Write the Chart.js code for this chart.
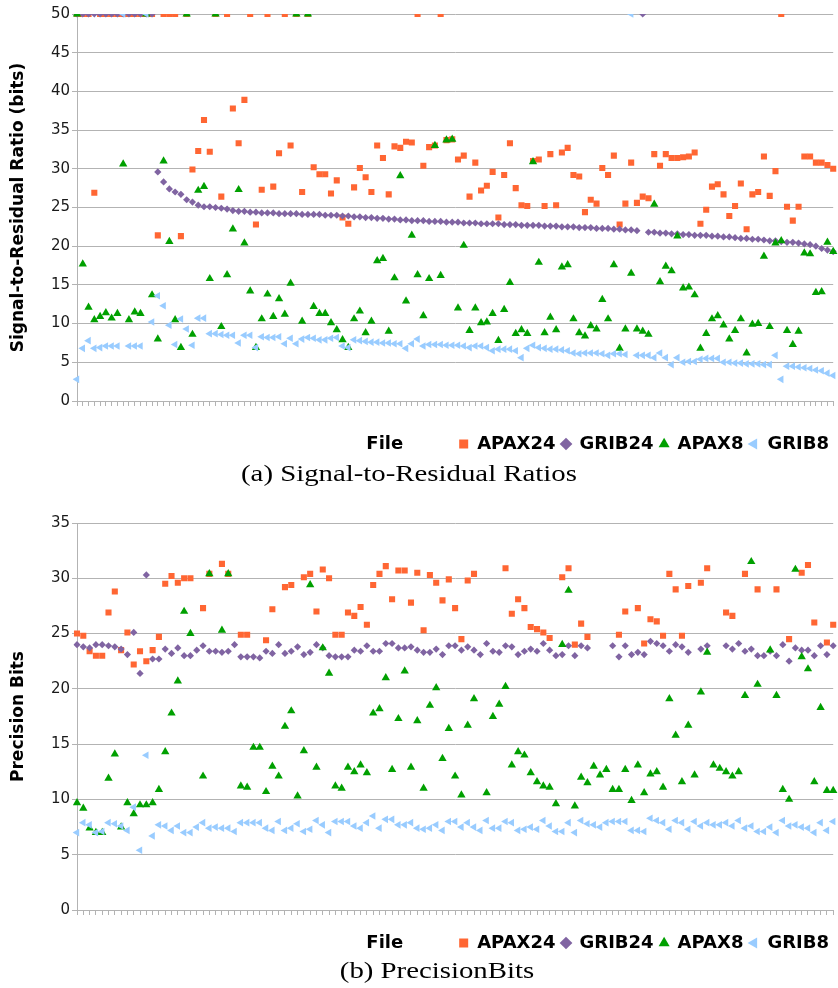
<!DOCTYPE html>
<html><head><meta charset="utf-8">
<script src="https://cdn.jsdelivr.net/npm/chart.js@4.4.1/dist/chart.umd.min.js"></script>
<style>
html,body{margin:0;padding:0;background:#fff;}
body{width:838px;height:988px;position:relative;overflow:hidden;}
.wrap{position:absolute;left:0;width:838px;}
#w1{top:0;height:465px;}
#w2{top:505px;height:459px;}
.cap{position:absolute;width:838px;text-align:center;font-family:"Liberation Serif",serif;font-size:24px;line-height:28px;color:#000;}
.cap span{display:inline-block;transform:scaleX(1.2);}
</style></head>
<body>
<div class="wrap" id="w1"><canvas id="c1"></canvas></div>
<div class="cap" style="top:459px;left:-10px;"><span>(a) Signal-to-Residual Ratios</span></div>
<div class="wrap" id="w2"><canvas id="c2"></canvas></div>
<div class="cap" style="top:956px;left:18px;"><span>(b) PrecisionBits</span></div>
<script>
// ---------- (a) Signal-to-Residual Ratios (bits) ----------
const sigApax24 = [50,50,50,26.9,50,50,50,50,50,50,50,50,50,50,
21.4,50,50,50,21.3,50,29.9,32.3,36.3,32.2,50,26.4,50,37.8,33.3,38.9,50,22.8,27.3,50,27.7,32.0,50,33.0,50,27.0,
50,30.2,29.3,29.3,26.8,28.5,23.7,22.9,27.6,30.1,28.9,27.0,33.0,31.4,26.7,32.9,32.7,33.5,33.4,50,
30.4,32.8,33.0,50,33.7,33.8,31.2,31.7,26.4,30.8,27.2,27.8,29.6,23.7,29.2,33.3,27.5,25.3,25.2,31.0,
31.2,25.2,31.9,25.3,32.1,32.7,29.2,29.0,24.4,26.0,25.5,30.1,29.2,31.7,22.8,25.5,30.8,25.6,26.4,26.2,
31.9,30.4,31.9,31.4,31.4,31.5,31.6,32.1,22.9,24.7,27.7,28.0,26.7,23.9,25.2,28.1,22.2,26.7,27.0,31.6,
26.5,29.7,50,25.1,23.3,25.1,31.6,31.6,30.8,30.8,30.5,30.0];
const sigGrib24 = [50,50,50,50,50,50,50,50,50,50,50,50,50,50,
29.6,28.3,27.4,27.0,26.7,26.0,25.7,25.3,25.1,25.1,25.0,24.9,24.8,24.6,24.5,24.5,24.4,24.4,24.3,24.3,24.3,
24.2,24.2,24.2,24.2,24.1,24.1,24.1,24.1,24.0,24.0,24.0,23.9,23.9,23.8,23.8,23.7,23.7,23.6,23.6,23.5,
23.5,23.4,23.4,23.3,23.3,23.3,23.2,23.2,23.2,23.1,23.1,23.1,23.0,23.0,23.0,22.9,22.9,22.9,22.9,22.8,
22.8,22.8,22.7,22.7,22.7,22.7,22.6,22.6,22.6,22.5,22.5,22.5,22.4,22.4,22.4,22.3,22.3,22.3,22.2,22.2,
22.1,22.1,22.0,50,21.8,21.8,21.7,21.7,21.6,21.6,21.5,21.5,21.4,21.4,21.4,21.3,21.3,21.2,21.2,21.1,
21.0,21.0,20.9,20.9,20.8,20.7,20.7,20.6,20.5,20.5,20.4,20.3,20.2,20.0,19.7,19.5,19.3];
const sigApax8 = [50,17.7,12.1,10.5,10.9,11.4,10.7,11.3,30.6,10.5,11.5,11.3,50,13.7,8.0,31.0,20.6,10.5,6.9,50,
8.6,27.2,27.7,15.8,50,9.6,16.3,22.2,27.3,20.4,14.2,6.9,10.6,13.8,10.9,13.2,11.2,15.2,50,10.3,
50,12.2,11.3,11.3,10.1,9.2,7.9,6.9,10.6,11.6,8.8,10.3,18.1,18.4,9.0,15.9,29.1,12.9,21.4,16.3,
11.0,15.8,33.0,16.2,33.7,33.8,12.0,20.1,9.1,12.0,10.1,10.2,11.3,7.8,11.8,15.3,8.7,9.2,8.7,30.9,
17.9,8.8,10.8,9.2,17.3,17.6,10.6,8.8,8.4,9.7,9.3,13.1,10.6,17.6,6.8,9.3,16.5,9.3,9.0,8.6,
25.4,15.4,17.4,16.8,21.3,14.6,14.7,13.7,6.8,8.7,10.6,11.0,9.8,8.0,9.1,10.6,6.2,9.9,10.0,18.7,
9.6,20.4,20.7,9.1,7.3,9.0,19.1,19.0,14.0,14.1,20.5,19.3];
const sigGrib8 = [2.8,6.8,7.8,6.8,6.9,7.1,7.1,7.1,50,7.1,7.1,7.1,50,10.2,13.6,12.3,9.8,7.3,10.6,9.3,
7.2,10.7,10.7,8.7,8.7,8.6,8.5,8.5,7.5,8.5,8.5,6.9,8.3,8.2,8.2,8.3,7.4,8.1,7.4,8.0,
8.2,8.1,7.9,7.9,8.1,8.2,7.1,6.9,7.9,7.8,7.7,7.6,7.6,7.5,7.5,7.4,7.4,6.8,7.4,8.0,
7.1,7.3,7.3,7.3,7.2,7.2,7.2,7.1,6.9,7.1,7.1,6.9,6.5,6.7,6.7,6.7,6.5,5.6,6.8,7.2,
6.9,6.8,6.7,6.7,6.6,6.5,6.2,6.1,6.2,6.2,6.2,6.1,5.9,6.1,6.1,6.0,50,5.9,5.9,5.9,
5.6,6.2,5.6,4.7,5.6,5.0,5.1,5.1,5.4,5.5,5.5,5.5,5.0,5.0,4.9,4.9,4.8,4.8,4.8,4.7,
4.7,5.9,2.8,4.5,4.5,4.4,4.3,4.2,4.0,3.9,3.6,3.3];
const sigAxis = {min: 0, max: 50, step: 5, title: 'Signal-to-Residual Ratio (bits)'};

// ---------- (b) PrecisionBits ----------
const precApax24 = [25.0,24.8,23.4,23.0,23.0,26.9,28.8,23.5,25.1,22.2,23.4,22.5,23.5,24.7,29.5,30.2,29.6,30.0,30.0,null,
27.3,30.4,null,31.3,30.4,null,24.9,24.9,null,null,24.4,27.2,null,29.2,29.4,null,30.1,30.4,27.0,30.8,
30.0,24.9,24.9,26.9,26.6,27.4,25.8,29.4,30.4,31.1,28.1,30.7,30.7,27.8,30.5,25.3,30.3,29.6,28.0,29.9,
27.3,24.5,29.8,30.4,null,null,null,null,30.9,26.8,28.1,27.3,25.6,25.4,25.1,24.6,null,30.1,30.9,24.0,
25.9,24.7,null,null,null,null,24.9,27.0,null,27.3,24.1,26.3,26.1,24.8,30.4,29.0,24.8,29.3,null,29.6,
30.9,null,null,26.9,26.6,null,30.4,null,29.0,null,null,29.0,null,24.5,null,30.5,31.2,26.0,null,24.2,
25.8];
const precGrib24 = [24.0,23.8,23.7,24.0,24.0,23.9,23.8,23.6,23.1,25.1,21.4,30.3,22.7,22.7,23.6,23.2,23.7,23.0,23.0,23.5,
23.9,23.4,23.4,23.3,23.4,24.0,22.9,22.9,22.9,22.8,23.4,23.2,24.0,23.2,23.4,23.8,23.1,23.3,24.0,23.7,
23.0,22.9,22.9,22.9,23.5,23.4,23.9,23.4,23.4,24.1,24.1,23.7,23.7,23.8,23.5,23.3,23.3,23.6,23.1,23.9,
23.9,23.5,23.8,23.5,23.1,24.1,23.4,23.3,23.9,23.8,23.1,23.4,23.6,23.4,24.1,23.5,23.0,23.1,23.9,23.0,
23.9,23.7,null,null,null,23.9,22.9,23.9,23.1,23.3,23.1,24.3,24.1,23.9,23.4,24.0,23.8,23.3,null,23.6,
23.9,null,null,23.9,23.6,24.1,23.4,23.6,23.0,23.0,23.4,23.0,24.0,22.5,23.7,23.5,23.5,23.0,23.9,23.1,
23.9];
const precApax8 = [9.7,9.2,7.4,7.0,7.0,11.9,14.1,7.5,9.7,8.7,9.5,9.5,9.7,10.9,14.3,17.8,20.7,27.0,25.0,null,
12.1,30.4,null,25.3,30.4,null,11.2,11.1,14.7,14.7,10.7,13.0,12.1,16.6,18.0,10.3,14.4,29.4,12.9,23.7,
21.4,11.2,11.0,12.9,12.5,13.1,12.4,17.8,18.2,21.0,12.7,17.3,21.6,12.9,17.1,11.0,18.5,20.1,13.7,16.4,
12.1,10.4,16.7,19.1,null,10.6,17.5,18.6,20.2,13.1,14.3,14.0,12.4,11.6,11.2,11.1,9.6,24.0,28.9,9.4,
12.0,11.5,13.0,12.2,12.7,10.9,10.9,12.7,9.9,13.1,10.6,12.3,12.5,11.1,19.1,15.8,11.6,16.7,12.2,19.7,
23.3,13.1,12.8,12.5,12.1,12.5,19.4,31.5,20.4,null,23.5,19.4,10.9,10.0,30.8,22.9,21.8,11.6,18.3,10.8,
10.8];
const precGrib8 = [7.0,7.9,7.7,7.0,7.1,7.9,7.8,7.6,7.2,9.3,5.4,14.0,6.7,7.7,7.6,7.2,7.6,7.0,7.0,7.5,
7.9,7.4,7.5,7.4,7.4,7.1,7.9,7.9,7.9,7.9,7.4,7.2,8.0,7.2,7.4,7.8,7.1,7.3,8.1,7.7,
7.0,8.0,8.0,8.0,7.6,7.4,7.9,8.5,7.4,8.2,8.2,7.7,7.7,7.9,7.4,7.3,7.4,7.7,7.2,8.0,
8.0,7.5,7.9,7.5,7.2,8.1,7.4,7.4,8.0,7.9,7.2,7.3,7.5,7.3,8.1,7.6,7.1,7.1,7.9,7.0,
8.1,7.8,7.7,7.5,7.9,8.0,8.0,8.0,7.2,7.2,7.1,8.3,8.1,7.9,7.3,8.1,7.9,7.3,8.0,7.6,
7.9,7.7,7.7,7.9,7.6,8.1,7.4,7.6,7.1,7.1,7.5,7.0,8.1,7.6,7.7,7.5,7.4,7.0,7.9,7.2,
8.0];
const precAxis = {min: 0, max: 35, step: 5, title: 'Precision Bits'};

const seriesNames = ['APAX24', 'GRIB24', 'APAX8', 'GRIB8'];
const xTitle = 'File';

const FONT = '"DejaVu Sans", sans-serif';
const LEGEND_SIZE = 18;
const styles = [
  {color: '#ff6633', pointStyle: 'rect', radius: 4.3, rotation: 0, order: 4},
  {color: '#8064a2', pointStyle: 'rectRot', radius: 3.6, rotation: 0, order: 3},
  {color: '#00a000', pointStyle: 'triangle', radius: 4.8, rotation: 0, order: 2},
  {color: '#99ccff', pointStyle: 'triangle', radius: 4.4, rotation: -90, order: 1}
];

const fileLabelPlugin = {
  id: 'fileLabel',
  afterDraw(chart) {
    const lg = chart.legend;
    if (!lg || !lg.legendHitBoxes || !lg.legendHitBoxes.length) return;
    const hb = lg.legendHitBoxes[0];
    const ctx = chart.ctx;
    ctx.save();
    ctx.font = 'bold ' + LEGEND_SIZE + 'px ' + FONT;
    ctx.fillStyle = '#000';
    ctx.textAlign = 'right';
    ctx.textBaseline = 'middle';
    ctx.fillText(xTitle, hb.left - 56, hb.top + hb.height / 2);
    ctx.restore();
  }
};

function makeChart(id, seriesList, axis, pad, xHeight) {
  const labels = seriesList[0].map((_, i) => 'File ' + (i + 1));
  const datasets = seriesList.map((data, k) => ({
    label: seriesNames[k],
    data: data,
    showLine: false,
    pointStyle: styles[k].pointStyle,
    pointRadius: styles[k].radius,
    pointHoverRadius: styles[k].radius,
    pointRotation: styles[k].rotation,
    pointBackgroundColor: styles[k].color,
    backgroundColor: styles[k].color,
    borderColor: styles[k].color,
    pointBorderWidth: 0,
    borderWidth: 0,
    order: styles[k].order
  }));
  return new Chart(document.getElementById(id), {
    type: 'line',
    data: {labels, datasets},
    plugins: [fileLabelPlugin],
    options: {
      responsive: true,
      maintainAspectRatio: false,
      animation: false,
      layout: {padding: pad},
      scales: {
        x: {
          type: 'category',
          offset: false,
          grid: {drawOnChartArea: false, drawTicks: true, tickLength: 5, color: '#b3b3b3', offset: false},
          border: {display: true, color: '#b3b3b3'},
          ticks: {autoSkip: false, maxRotation: 0, minRotation: 0, padding: 0, font: {size: 1}, callback: () => ''},
          afterFit: (s) => { s.height = xHeight; }
        },
        y: {
          min: axis.min, max: axis.max,
          ticks: {stepSize: axis.step, font: {size: 15, family: FONT}, color: '#1a1a1a', padding: 2},
          grid: {color: '#b3b3b3', tickLength: 5},
          border: {display: true, color: '#b3b3b3'},
          title: {display: true, text: axis.title, color: '#000',
                  font: {size: 17, weight: 'bold', family: FONT}, padding: {top: 8, bottom: 0}},
          afterFit: (s) => { s.width = 77; }
        }
      },
      plugins: {
        tooltip: {enabled: false},
        legend: {
          position: 'bottom',
          align: 'end',
          labels: {
            usePointStyle: true, boxWidth: 9, boxHeight: 9, padding: 6,
            color: '#000', font: {size: LEGEND_SIZE, weight: 'bold', family: FONT},
            sort: (a, b) => a.datasetIndex - b.datasetIndex
          }
        }
      }
    }
  });
}

makeChart('c1', [sigApax24, sigGrib24, sigApax8, sigGrib8], sigAxis, {top: 14, right: 3, bottom: 2, left: 0}, 28);
makeChart('c2', [precApax24, precGrib24, precApax8, precGrib8], precAxis, {top: 18, right: 3, bottom: 2, left: 0}, 18);
</script>
</body></html>
